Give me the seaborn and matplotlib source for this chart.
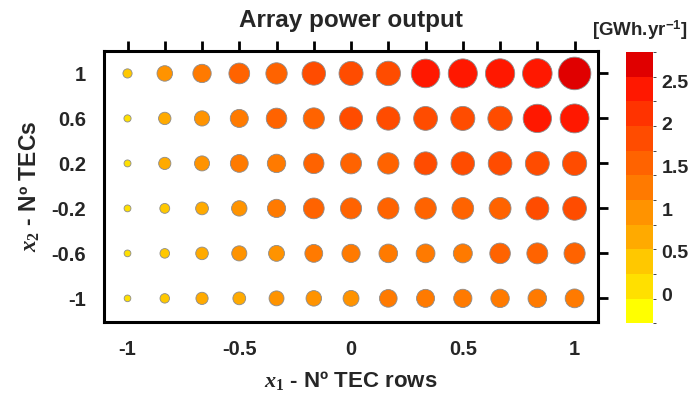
import matplotlib
matplotlib.use("Agg")
import matplotlib.pyplot as plt
import matplotlib.colors as mcolors
import matplotlib.cm as cm
import numpy as np
import pandas as pd
import seaborn as sns

# design levels
x1_levels = [-1, -5/6, -4/6, -3/6, -2/6, -1/6, 0, 1/6, 2/6, 3/6, 4/6, 5/6, 1]
x2_levels = [1, 0.6, 0.2, -0.2, -0.6, -1]

# array power output [GWh/yr], one list per x2 level
power_x2_p10 = [0.33, 0.98, 1.27, 1.52, 1.58, 1.80, 1.86, 1.90, 2.33, 2.38, 2.40, 2.43, 2.74]
power_x2_p06 = [0.12, 0.66, 0.95, 1.24, 1.50, 1.56, 1.76, 1.80, 1.84, 1.86, 1.90, 2.30, 2.36]
power_x2_p02 = [0.10, 0.64, 0.93, 1.22, 1.28, 1.48, 1.54, 1.58, 1.76, 1.80, 1.82, 1.85, 1.88]
power_x2_m02 = [0.09, 0.40, 0.70, 0.97, 1.26, 1.52, 1.56, 1.58, 1.60, 1.62, 1.64, 1.76, 1.82]
power_x2_m06 = [0.08, 0.37, 0.68, 0.94, 1.02, 1.22, 1.26, 1.30, 1.32, 1.34, 1.50, 1.54, 1.56]
power_x2_m10 = [0.07, 0.36, 0.64, 0.70, 0.92, 0.98, 1.02, 1.20, 1.24, 1.26, 1.28, 1.30, 1.32]
power_rows = [power_x2_p10, power_x2_p06, power_x2_p02,
              power_x2_m02, power_x2_m06, power_x2_m10]

# colour scale (11 bands)
band_edges = [-0.336, -0.047, 0.242, 0.531, 0.820, 1.109, 1.398,
              1.687, 1.976, 2.264, 2.553, 2.842]
band_colors = ["#FFFF00", "#FFE000", "#FFC800", "#FFAA00", "#FF9300", "#FF7A00",
               "#FF6300", "#FF4C00", "#FF3300", "#FF1800", "#E00000"]
cbar_ticks = [0, 0.5, 1, 1.5, 2, 2.5]
cbar_labels = ["0", "0.5", "1", "1.5", "2", "2.5"]

rows = []
for x2, vals in zip(x2_levels, power_rows):
    for x1, v in zip(x1_levels, vals):
        rows.append({"x1": x1, "x2": x2, "power": v})
df = pd.DataFrame(rows)
# marker area (pt^2) so that bubble diameter grows linearly with power
df["area"] = ((6 + 9.7 * df["power"]) * 0.72) ** 2

sns.set_style("white")
plt.rcParams["font.family"] = ["Liberation Sans", "DejaVu Sans"]
plt.rcParams["font.weight"] = "bold"
plt.rcParams["mathtext.fontset"] = "custom"
plt.rcParams["mathtext.it"] = "Liberation Serif:italic"
plt.rcParams["mathtext.rm"] = "Liberation Serif"
plt.rcParams["mathtext.bf"] = "Liberation Sans:bold"

cmap = mcolors.ListedColormap(band_colors)
norm = mcolors.BoundaryNorm(band_edges, cmap.N)

fig = plt.figure(figsize=(6.89, 3.98), dpi=100)
ax = fig.add_axes([0.151, 0.191, 0.717, 0.681])

sns.scatterplot(data=df, x="x1", y="x2", hue="power", palette=cmap, hue_norm=norm,
                size="area", sizes=(df["area"].min(), df["area"].max()),
                edgecolor="#8c8c8c", linewidth=0.6, legend=False, ax=ax, zorder=3)

ax.set_xlim(-1.105, 1.105)
ax.set_ylim(-1.21, 1.2)
ax.set_xticks(x1_levels)
ax.set_xticklabels([("%g" % v) if abs(v * 2 - round(v * 2)) < 1e-6 else "" for v in x1_levels])
ax.set_yticks(x2_levels)
ax.set_yticklabels(["%g" % v for v in x2_levels])
ax.tick_params(axis="both", which="both", direction="out", length=7, width=2,
               top=True, right=True, labelsize=14.5, pad=6, color="black")
for lab in ax.get_xticklabels() + ax.get_yticklabels():
    lab.set_fontweight("bold")
for sp in ax.spines.values():
    sp.set_linewidth(2.2)
    sp.set_color("black")
ax.grid(False)

ax.set_xlabel(r"$x_1$ - Nº TEC rows", fontsize=16, fontweight="bold", labelpad=7)
ax.set_ylabel(r"$x_2$ - Nº TECs", fontsize=16.5, fontweight="bold", labelpad=7)
ax.set_title("Array power output", fontsize=17.5, fontweight="bold", pad=17)

cax = fig.add_axes([0.909, 0.188, 0.039, 0.681])
sm = cm.ScalarMappable(norm=norm, cmap=cmap)
cbar = fig.colorbar(sm, cax=cax, ticks=cbar_ticks, spacing="proportional")
cbar.outline.set_visible(False)
cbar.ax.tick_params(length=0, pad=6, labelsize=14)
cbar.ax.set_yticklabels(cbar_labels, fontweight="bold")
fig.text(0.929, 0.925, r"[GWh.yr$^{\mathbf{-1}}$]", ha="center", va="center",
         fontsize=13.5, fontweight="bold")

fig.savefig("out.png", dpi=100)
